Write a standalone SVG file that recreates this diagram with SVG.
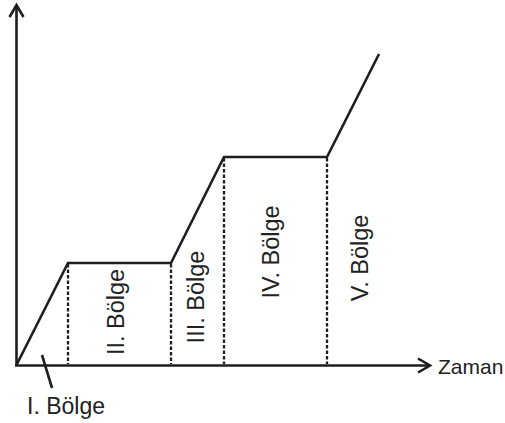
<svg xmlns="http://www.w3.org/2000/svg" width="505" height="423" viewBox="0 0 505 423">
<style>
.ax{fill:none;stroke:#1e1e1e;stroke-width:2.6;stroke-linecap:butt;stroke-linejoin:miter}
.cv{fill:none;stroke:#1e1e1e;stroke-width:2.6;stroke-linejoin:miter}
.ds{fill:none;stroke:#1e1e1e;stroke-width:2.3;stroke-dasharray:3.5 2}
.lb{font-family:"Liberation Sans",Arial,sans-serif;font-size:23.5px;fill:#222}
</style>
<rect width="505" height="423" fill="#fff"/>
<g id="axes">
<line class="ax" x1="16.5" y1="366" x2="16.5" y2="5"/>
<polyline class="ax" points="9.5,17 16.5,5 23.5,17"/>
<line class="ax" x1="15" y1="365.5" x2="430" y2="365.5"/>
<polyline class="ax" points="418,358.5 430,365.5 418,372.5"/>
</g>
<g id="connectors">
<polyline class="cv" points="17,364 68,263 171,263 224,157 327,157 379,54"/>
<line class="ds" x1="68" y1="264" x2="68" y2="364"/>
<line class="ds" x1="171" y1="264" x2="171" y2="364"/>
<line class="ds" x1="224" y1="158" x2="224" y2="364"/>
<line class="ds" x1="327" y1="158" x2="327" y2="364"/>
<line class="ax" x1="42" y1="355" x2="52" y2="388" stroke-width="2.2"/>
</g>
<g id="label-1"><text class="lb" x="27" y="414" style="font-size:23px">I. Bölge</text></g>
<g id="label-2"><text class="lb" text-anchor="middle" transform="translate(123.5,312) rotate(-90)">II. Bölge</text></g>
<g id="label-3"><text class="lb" text-anchor="middle" transform="translate(204,297) rotate(-90)">III. Bölge</text></g>
<g id="label-4"><text class="lb" text-anchor="middle" transform="translate(279,252) rotate(-90)">IV. Bölge</text></g>
<g id="label-5"><text class="lb" text-anchor="middle" transform="translate(368,258) rotate(-90)">V. Bölge</text></g>
<g id="label-zaman"><text class="lb" x="438" y="374" style="font-size:21px">Zaman</text></g>
</svg>
